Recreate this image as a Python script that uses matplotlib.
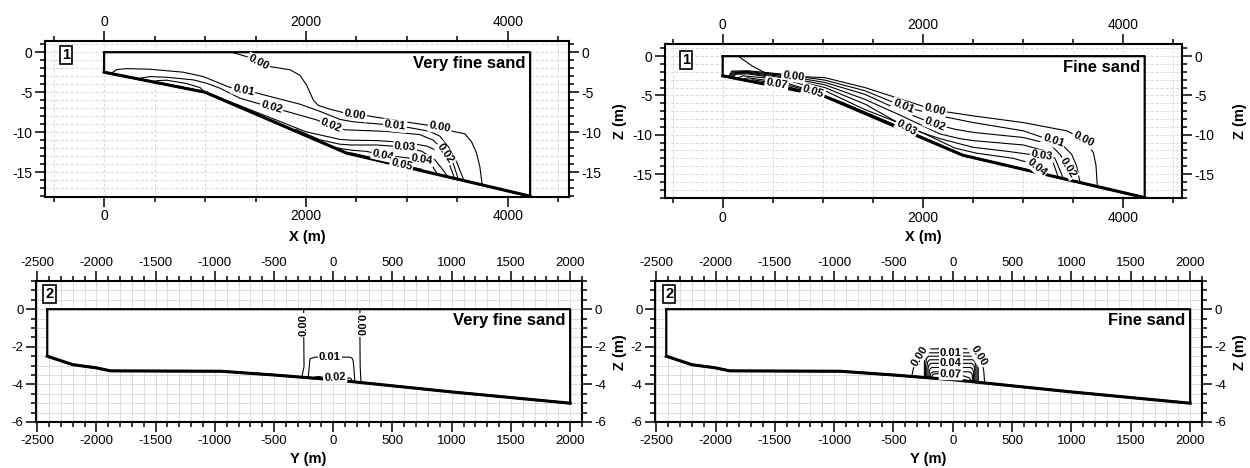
import numpy as np
import matplotlib.pyplot as plt
from matplotlib.ticker import MultipleLocator

plt.rcParams["font.family"] = ["Liberation Sans", "DejaVu Sans"]
plt.rcParams["axes.unicode_minus"] = False

FIG_W, FIG_H = 1250, 468

# ---- model domain outlines (m) ----
CROSS_X = [0, 1000, 2400, 4220]
CROSS_BED = [-2.5, -5.0, -12.6, -18.0]

LONG_Y = [-2415, -2200, -2000, -1880, -950, -500, 0, 1000, 2000]
LONG_BED = [-2.5, -2.95, -3.12, -3.28, -3.3, -3.5, -3.75, -4.4, -5.0]

# ---- concentration contours: (x, z) per line ----
VF_CROSS_LINES = [
    ([1264, 1412, 1528, 1644, 1842, 1941, 2006, 2073, 2122, 2230, 2386, 2485, 2617, 2963, 3194,
      3326, 3458, 3574, 3640, 3689, 3722, 3745],
     [0, -0.55, -1.3, -1.8, -2.2, -2.9, -4.1, -6.0, -6.65, -7.1, -7.6, -7.8, -7.96, -8.67, -9.1,
      -9.4, -9.9, -10.2, -11.2, -12.6, -14.3, -16.55]),
    ([70, 126, 224, 455, 785, 983, 1148, 1247, 1379, 1511, 1709, 1941, 2139, 2336, 2468, 2748,
      2880, 3012, 3227, 3326, 3408, 3491, 3564],
     [-2.65, -2.17, -2.05, -2.13, -2.5, -3.05, -3.9, -4.4, -4.75, -5.1, -5.75, -6.5, -7.4, -8.4,
      -8.7, -9.0, -9.2, -9.4, -9.9, -10.5, -11.8, -13.7, -16.0]),
    ([340, 356, 455, 621, 884, 1016, 1148, 1346, 1660, 1808, 2105, 2250, 2386, 2798, 3128, 3260,
      3326, 3375, 3458, 3508],
     [-3.35, -3.25, -3.05, -3.13, -3.46, -3.88, -4.5, -5.75, -6.9, -7.4, -8.46, -9.2, -9.7, -9.9,
      -10.3, -11.0, -11.8, -12.7, -13.9, -15.85]),
    ([480, 530, 621, 818, 950, 990],
     [-3.68, -3.55, -3.5, -3.92, -4.42, -4.95]),
    ([1050, 1300, 1610, 2000, 2336, 2450, 2700, 3000, 3200, 3330, 3420, 3470],
     [-5.2, -6.45, -8.0, -9.95, -10.9, -11.0, -11.05, -11.3, -11.75, -12.5, -14.0, -15.7]),
    ([1900, 2139, 2336, 2450, 2700, 2980, 3150, 3280, 3350, 3400],
     [-9.65, -10.95, -11.5, -11.6, -11.6, -11.85, -12.4, -13.5, -14.6, -15.5]),
    ([2300, 2450, 2600, 2765, 3000, 3145, 3250, 3300],
     [-11.95, -12.25, -12.4, -12.85, -13.2, -13.45, -14.2, -15.2]),
    ([2450, 2700, 2946, 3150],
     [-12.6, -13.3, -14.05, -14.65]),
]
VF_CROSS_LABELS = [
    (0, 1528, -1.3, "0.00"), (1, 1379, -4.75, "0.01"), (2, 1660, -6.9, "0.02"),
    (2, 2250, -9.2, "0.02"), (0, 2485, -7.8, "0.00"), (1, 2880, -9.2, "0.01"),
    (0, 3326, -9.4, "0.00"), (5, 2980, -11.85, "0.03"), (2, 3375, -12.7, "0.02"),
    (6, 2765, -12.85, "0.04"), (6, 3145, -13.45, "0.04"), (7, 2946, -14.05, "0.05"),
]

F_CROSS_LINES = [
    ([156, 300, 423, 706, 1023, 1423, 1790, 2056, 2173, 2506, 3006, 3440, 3606, 3706, 3733, 3746],
     [0, -1.3, -2.1, -2.55, -2.74, -4.0, -5.5, -6.6, -6.97, -7.6, -8.45, -9.5, -10.56, -12.25,
      -13.9, -16.55]),
    ([60, 90, 250, 600, 1023, 1423, 1806, 2173, 2506, 3006, 3306, 3406, 3490, 3540, 3573],
     [-2.6, -1.9, -1.85, -2.3, -3.05, -4.4, -6.4, -7.6, -8.45, -9.5, -10.8, -11.4, -12.5, -14.0,
      -16.05]),
    ([70, 100, 250, 600, 1023, 1423, 1790, 2123, 2323, 2506, 3006, 3273, 3373, 3456, 3490],
     [-2.62, -2.0, -1.95, -2.45, -3.35, -4.86, -7.0, -8.66, -9.3, -9.7, -10.35, -11.2, -12.5,
      -14.2, -15.82]),
    ([80, 110, 250, 600, 1023, 1423, 1790, 2173, 2373, 2506, 3006, 3206, 3323, 3406],
     [-2.68, -2.1, -2.05, -2.6, -3.65, -5.5, -7.6, -9.9, -10.5, -10.75, -11.3, -12.0, -13.0,
      -15.55]),
    ([90, 120, 250, 600, 1023, 1423, 1840, 2173, 2323, 2506, 2840, 3190, 3306, 3356],
     [-2.72, -2.2, -2.15, -2.75, -4.0, -6.1, -9.08, -10.5, -11.0, -11.6, -12.1, -12.7, -13.6,
      -15.4]),
    ([100, 130, 250, 600, 1023, 1423, 1923, 2323, 2540, 2906, 3100, 3140, 3206, 3240],
     [-2.75, -2.3, -2.25, -2.9, -4.4, -6.8, -9.3, -11.7, -12.35, -13.0, -13.7, -14.1, -14.6,
      -15.05]),
    ([150, 200, 500, 906, 1200, 1423, 1700, 2000, 2200],
     [-2.8, -2.5, -2.85, -4.5, -5.9, -7.1, -8.6, -10.3, -11.4]),
    ([200, 250, 450, 700, 900, 980],
     [-3.0, -2.75, -3.1, -3.85, -4.55, -4.93]),
    ([260, 300, 450, 540, 700, 850, 930],
     [-3.12, -3.0, -3.3, -3.5, -4.05, -4.55, -4.8]),
]
F_CROSS_LABELS = [
    (0, 706, -2.55, "0.00"), (8, 540, -3.5, "0.07"), (6, 906, -4.5, "0.05"),
    (1, 1806, -6.4, "0.01"), (0, 2123, -6.8, "0.00"), (2, 2123, -8.66, "0.02"),
    (4, 1840, -9.08, "0.03"), (1, 3306, -10.8, "0.01"), (0, 3606, -10.56, "0.00"),
    (2, 3456, -14.2, "0.02"), (4, 3190, -12.7, "0.03"), (5, 3140, -14.1, "0.04"),
]

VF_LONG_LINES = [
    ([-250, -249, -247, -266], [0, -1.5, -3.06, -3.63]),
    ([225, 225, 227, 234], [0, -1.5, -3.06, -3.88]),
    ([-211, -205, -197, -155, -43, 140, 160, 168, 175, 182],
     [-3.6, -3.2, -2.64, -2.55, -2.55, -2.55, -2.62, -2.75, -3.2, -3.85]),
    ([-175, -150, -120, -90, -40, 15, 70, 110, 135, 150, 160],
     [-3.66, -3.6, -3.58, -3.62, -3.64, -3.62, -3.66, -3.7, -3.65, -3.7, -3.83]),
]
VF_LONG_LABELS = [
    (0, -250, -0.85, "0.00", 90), (1, 225, -0.85, "0.00", -90),
    (2, -30, -2.55, "0.01"), (3, 15, -3.62, "0.02"),
]

F_LONG_LINES = [
    ([-346, -326, -274, -203, 11, 140, 197, 240, 260, 268],
     [-3.57, -2.97, -2.44, -2.12, -2.09, -2.11, -2.27, -2.71, -3.24, -3.9]),
    ([-240, -239, -232, -215, 190, 207, 214, 215], [-3.62, -2.8, -2.45, -2.32, -2.32, -2.45, -2.8, -3.86]),
    ([-230, -229, -222, -205, 180, 197, 204, 205], [-3.62, -2.95, -2.62, -2.5, -2.5, -2.62, -2.95, -3.85]),
    ([-220, -219, -212, -195, 170, 187, 194, 195], [-3.61, -3.05, -2.8, -2.69, -2.69, -2.8, -3.05, -3.85]),
    ([-210, -209, -202, -185, 160, 177, 184, 185], [-3.61, -3.15, -2.98, -2.88, -2.88, -2.98, -3.15, -3.84]),
    ([-200, -199, -192, -175, 150, 167, 174, 175], [-3.6, -3.3, -3.18, -3.1, -3.1, -3.18, -3.3, -3.84]),
    ([-190, -189, -182, -165, 140, 157, 164, 165], [-3.6, -3.45, -3.4, -3.33, -3.33, -3.4, -3.5, -3.83]),
    ([-178, -165, -120, -17, 90, 140, 155], [-3.59, -3.45, -3.43, -3.45, -3.55, -3.65, -3.82]),
]
F_LONG_LABELS = [
    (0, -285, -2.5, "0.00"), (0, 222, -2.45, "0.00"), (1, -17, -2.32, "0.01"),
    (4, -17, -2.88, "0.04"), (7, -17, -3.45, "0.07"),
]


def px_axes(fig, left, top, right, bottom):
    return fig.add_axes([left / FIG_W, 1 - bottom / FIG_H, (right - left) / FIG_W, (bottom - top) / FIG_H])


def style_axes(ax, xlim, ylim, xmaj, xmin, ymaj, ymin, fontsize, grid_ls):
    ax.set_xlim(*xlim)
    ax.set_ylim(*ylim)
    ax.xaxis.set_major_locator(MultipleLocator(xmaj))
    ax.xaxis.set_minor_locator(MultipleLocator(xmin))
    ax.yaxis.set_major_locator(MultipleLocator(ymaj))
    ax.yaxis.set_minor_locator(MultipleLocator(ymin))
    ax.tick_params(which="both", direction="out", top=True, right=True,
                   labeltop=True, labelright=True, width=1.1, labelsize=fontsize)
    ax.tick_params(which="major", length=7, pad=2)
    ax.tick_params(which="minor", length=3.5)
    ax.grid(which="both", color="#d6d6d6", lw=0.6, ls=grid_ls)
    ax.set_axisbelow(True)
    for spine in ax.spines.values():
        spine.set_linewidth(1.5)


def draw_domain(ax, xs, bed):
    poly_x = [xs[0]] + list(xs) + [xs[-1], xs[0]]
    poly_z = [0] + list(bed) + [0, 0]
    ax.fill(poly_x, poly_z, color="white", zorder=1.5)
    ax.plot(poly_x, poly_z, color="black", lw=1.6, zorder=4)
    ax.plot(xs, bed, color="black", lw=2.2, zorder=4)


def snap_label(ax, xs, zs, x, z):
    """Snap a label to the closest point of its line and return the line angle there."""
    pts = ax.transData.transform(np.column_stack([xs, zs]))
    p = ax.transData.transform((x, z))
    best = None
    for a, b in zip(pts[:-1], pts[1:]):
        d = b - a
        seg_len2 = d @ d
        t = 0.0 if seg_len2 == 0 else float(np.clip((p - a) @ d / seg_len2, 0, 1))
        q = a + t * d
        dist = np.hypot(*(p - q))
        if best is None or dist < best[0]:
            best = (dist, q, d)
    _, q, d = best
    angle = np.degrees(np.arctan2(d[1], d[0]))
    if angle > 90:
        angle -= 180
    if angle <= -90:
        angle += 180
    xq, zq = ax.transData.inverted().transform(q)
    return xq, zq, angle


def draw_contours(ax, lines, labels):
    for xs, zs in lines:
        ax.plot(xs, zs, color="black", lw=0.8, zorder=3)
    for lab in labels:
        idx, x, z, text = lab[:4]
        xs, zs = lines[idx]
        xq, zq, angle = snap_label(ax, xs, zs, x, z)
        if len(lab) > 4:
            angle = lab[4]
        ax.text(xq, zq, text, rotation=angle, rotation_mode="anchor", ha="center", va="center",
                fontsize=8, fontweight="bold", zorder=5,
                bbox=dict(boxstyle="square,pad=0.1", fc="white", ec="none"))


def decorate(ax, xs, title, number, num_pos):
    ax.annotate(title, xy=(xs[-1], 0), xytext=(-3.5, -2.5), textcoords="offset points",
                ha="right", va="top", fontsize=12, fontweight="bold", zorder=6)
    ax.text(num_pos[0], num_pos[1], number, transform=ax.transAxes, ha="center", va="center",
            fontsize=10.5, fontweight="bold", zorder=6,
            bbox=dict(boxstyle="square,pad=0.15", fc="white", ec="black", lw=1.2))


def main():
    fig = plt.figure(figsize=(FIG_W / 100, FIG_H / 100), dpi=100)

    panels = [
        (px_axes(fig, 45, 41, 569, 197), (-585, 4605), (-18.1, 1.4), VF_CROSS_LINES, VF_CROSS_LABELS,
         "Very fine sand", "1", (0.040, 0.910)),
        (px_axes(fig, 665, 44, 1182, 198), (-577, 4593), (-18.05, 1.55), F_CROSS_LINES, F_CROSS_LABELS,
         "Fine sand", "1", (0.041, 0.898)),
        (px_axes(fig, 36, 281, 582, 422), (-2510, 2100), (-6, 1.5), VF_LONG_LINES, VF_LONG_LABELS,
         "Very fine sand", "2", (0.025, 0.906)),
        (px_axes(fig, 655, 281, 1202, 422), (-2510, 2100), (-6, 1.5), F_LONG_LINES, F_LONG_LABELS,
         "Fine sand", "2", (0.026, 0.906)),
    ]

    for i, (ax, xlim, ylim, lines, labels, title, number, num_pos) in enumerate(panels):
        if i < 2:
            style_axes(ax, xlim, ylim, 2000, 500, 5, 1, 10, (0, (4, 2)))
            xs, bed = CROSS_X, CROSS_BED
        else:
            style_axes(ax, xlim, ylim, 500, 100, 2, 0.5, 9.5, "-")
            xs, bed = LONG_Y, LONG_BED
        draw_domain(ax, xs, bed)
        draw_contours(ax, lines, labels)
        decorate(ax, xs, title, number, num_pos)

    label_kw = dict(fontsize=10.5, fontweight="bold", ha="center", va="center")
    fig.text(307 / FIG_W, 1 - 237 / FIG_H, "X (m)", **label_kw)
    fig.text(923 / FIG_W, 1 - 237 / FIG_H, "X (m)", **label_kw)
    fig.text(308 / FIG_W, 1 - 459 / FIG_H, "Y (m)", **label_kw)
    fig.text(928 / FIG_W, 1 - 459 / FIG_H, "Y (m)", **label_kw)
    for x, y in [(620, 121), (1240, 121), (620, 352), (1240, 352)]:
        fig.text(x / FIG_W, 1 - y / FIG_H, "Z (m)", rotation=90, **label_kw)

    fig.savefig("out.png", dpi=100)
    plt.close(fig)


if __name__ == "__main__":
    main()
